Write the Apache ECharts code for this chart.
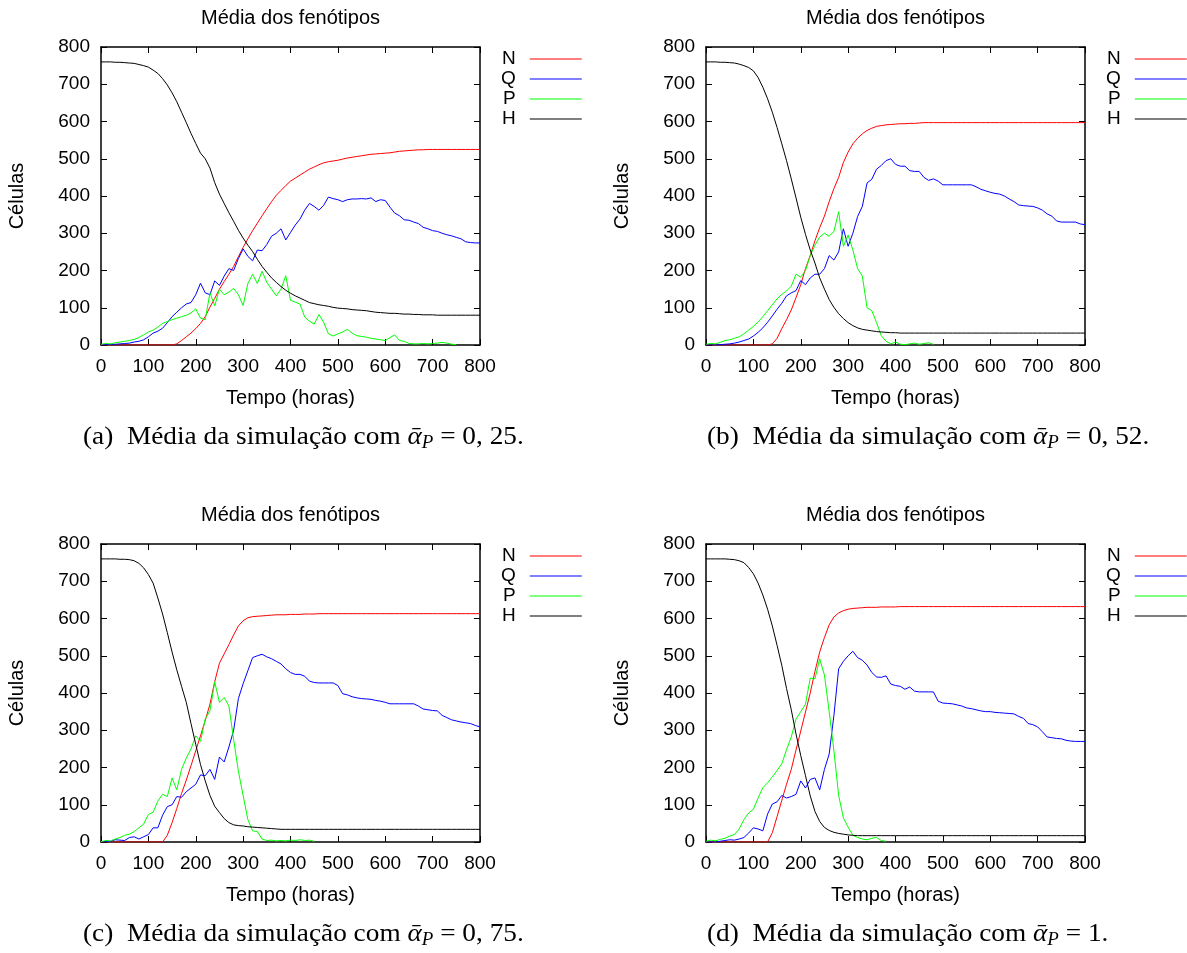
<!DOCTYPE html>
<html>
<head>
<meta charset="utf-8">
<script src="https://cdn.jsdelivr.net/npm/echarts@6/dist/echarts.min.js"></script>
<style>
  html, body { margin: 0; padding: 0; background: #fff; }
  #chart { width: 1187px; height: 953px; }
</style>
</head>
<body>
<div id="chart"></div>
<script>
const hours = [
  0, 10, 20, 30, 40, 50, 60, 70, 80, 90,
  100, 110, 120, 130, 140, 150, 160, 170, 180, 190,
  200, 210, 220, 230, 240, 250, 260, 270, 280, 290,
  300, 310, 320, 330, 340, 350, 360, 370, 380, 390,
  400, 410, 420, 430, 440, 450, 460, 470, 480, 490,
  500, 510, 520, 530, 540, 550, 560, 570, 580, 590,
  600, 610, 620, 630, 640, 650, 660, 670, 680, 690,
  700, 710, 720, 730, 740, 750, 760, 770, 780, 790,
  800
]
const seriesNames = ['N', 'Q', 'P', 'H']

// (a) alpha_P = 0,25
const nA = [
  0, 0, 0, 0, 0, 0, 0, 0, 0, 0,
  0, 0, 0, 0, 0, 0, 3, 12, 22, 32,
  44, 58, 76, 102, 125, 150, 170, 190, 211, 237,
  262, 285, 307, 327, 347, 366, 385, 402, 415, 428,
  440, 448, 456, 464, 472, 478, 484, 489, 492, 494,
  496, 499, 502, 504, 506, 508, 510, 512, 513, 514,
  515, 516, 518, 520, 521, 522, 523, 524, 524, 525,
  525, 525, 525, 525, 525, 525, 525, 525, 525, 525,
  525
]
const qA = [
  0, 1, 2, 2, 3, 4, 5, 8, 10, 14,
  22, 32, 37, 45, 60, 76, 88, 100, 110, 114,
  135, 166, 140, 135, 172, 160, 185, 205, 200, 232,
  258, 238, 226, 255, 253, 270, 292, 300, 312, 282,
  302, 322, 338, 362, 380, 372, 362, 375, 397, 393,
  390, 385, 390, 392, 392, 393, 392, 395, 385, 390,
  388, 370, 354, 347, 336, 335, 330, 326, 316, 312,
  307, 305, 300, 296, 293, 289, 285, 277, 275, 274,
  274
]
const pA = [
  2, 4, 3, 6, 8, 10, 12, 15, 20, 27,
  35, 40, 48, 58, 63, 68, 72, 76, 80, 86,
  97, 72, 68, 140, 105, 150, 135, 142, 152, 135,
  106, 165, 190, 165, 198, 168, 150, 132, 150, 186,
  120, 115, 110, 75, 64, 56, 82, 61, 30, 24,
  30, 35, 42, 32, 25, 23, 21, 18, 16, 14,
  12, 20, 27, 12, 10, 4, 3, 3, 4, 3,
  4, 5, 7, 5, 2, 1, null, null, null, null,
  null
]
const hA = [
  760, 760, 760, 759, 759, 758, 757, 756, 753, 750,
  746, 738, 729, 715, 698, 677, 653, 625, 597, 568,
  541, 515, 500, 475, 436, 405, 380, 355, 332, 308,
  287, 268, 251, 230, 211, 195, 180, 168, 157, 147,
  139, 132, 126, 120, 114, 111, 108, 106, 104, 101,
  99, 98, 97, 95, 94, 93, 92, 90, 88, 87,
  86, 85, 85, 84, 83, 83, 82, 82, 81, 81,
  81, 80, 80, 80, 80, 80, 80, 80, 80, 80,
  80
]

// (b) alpha_P = 0,52
const nB = [
  0, 0, 0, 0, 0, 0, 0, 0, 0, 0,
  0, 0, 0, 0, 3, 18, 44, 68, 94, 127,
  162, 205, 240, 280, 315, 346, 385, 420, 450, 490,
  518, 540, 555, 567, 576, 582, 587, 589, 591, 592,
  593, 594, 594, 595, 595, 596, 597, 597, 597, 597,
  597, 597, 597, 597, 597, 597, 597, 597, 597, 597,
  597, 597, 597, 597, 597, 597, 597, 597, 597, 597,
  597, 597, 597, 597, 597, 597, 597, 597, 597, 597,
  597
]
const qB = [
  0, 0, 0, 1, 2, 3, 5, 8, 12, 16,
  24, 34, 46, 61, 78, 96, 112, 132, 140, 146,
  173, 162, 180, 190, 190, 205, 240, 228, 250, 312,
  265, 300, 345, 372, 435, 445, 472, 482, 495, 500,
  485, 480, 480, 468, 466, 466, 450, 442, 446, 440,
  430, 430, 430, 430, 430, 430, 430, 425, 418, 414,
  410, 407, 405, 400, 392, 385, 376, 374, 373, 372,
  368, 362, 352, 346, 333, 330, 330, 330, 330, 325,
  323
]
const pB = [
  2, 4, 3, 7, 12, 14, 18, 22, 30, 40,
  50, 62, 76, 92, 108, 124, 136, 145, 158, 190,
  182, 200, 240, 268, 290, 300, 292, 305, 358, 265,
  295, 255, 205, 185, 100, 92, 60, 25, 10, 3,
  8, 2, 1, 3, 5, 2, 4, 6, 2, null,
  null, null, null, null, null, null, null, null, null, null,
  null, null, null, null, null, null, null, null, null, null,
  null, null, null, null, null, null, null, null, null, null,
  null
]
const hB = [
  760, 760, 760, 759, 759, 758, 757, 754, 750, 745,
  736, 718, 692, 661, 625, 584, 540, 495, 446, 395,
  343, 297, 255, 220, 180, 150, 122, 101, 84, 71,
  60, 52, 46, 42, 40, 38, 36, 35, 34, 33,
  33, 32, 32, 32, 32, 32, 32, 32, 32, 32,
  32, 32, 32, 32, 32, 32, 32, 32, 32, 32,
  32, 32, 32, 32, 32, 32, 32, 32, 32, 32,
  32, 32, 32, 32, 32, 32, 32, 32, 32, 32,
  32
]

// (c) alpha_P = 0,75
const nC = [
  0, 0, 0, 0, 0, 0, 0, 0, 0, 0,
  0, 0, 0, 0, 18, 52, 90, 130, 166, 205,
  245, 285, 326, 370, 430, 480, 505, 530, 556, 580,
  594, 602, 605, 606, 607, 608, 609, 610, 610, 610,
  611, 611, 611, 612, 612, 612, 613, 613, 613, 613,
  613, 613, 613, 613, 613, 613, 613, 613, 613, 613,
  613, 613, 613, 613, 613, 613, 613, 613, 613, 613,
  613, 613, 613, 613, 613, 613, 613, 613, 613, 613,
  613
]
const qC = [
  0, 1, 2, 6, 5, 4, 12, 14, 8, 14,
  20, 38, 38, 72, 95, 100, 122, 120, 135, 145,
  155, 180, 178, 195, 168, 228, 215, 255, 300, 385,
  425, 460, 495, 500, 504, 497, 492, 485, 478, 465,
  455, 450, 450, 445, 432, 428, 427, 427, 427, 427,
  420, 398, 395, 390, 387, 385, 384, 383, 380, 378,
  375, 371, 371, 371, 371, 371, 371, 365, 357, 355,
  353, 352, 340, 334, 328, 325, 322, 320, 318, 313,
  309
]
const pC = [
  1, 4, 3, 8, 12, 18, 21, 28, 38, 48,
  74, 80, 110, 128, 122, 172, 140, 195, 225, 250,
  285, 270, 330, 352, 430, 375, 388, 365, 275, 190,
  125, 60, 30, 28, 8, 4, 5, 3, 4, 3,
  5, 4, 6, 4, 5, 2, null, null, null, null,
  null, null, null, null, null, null, null, null, null, null,
  null, null, null, null, null, null, null, null, null, null,
  null, null, null, null, null, null, null, null, null, null,
  null
]
const hC = [
  760, 760, 760, 760, 759, 759, 758, 755, 748, 736,
  718, 695, 655, 612, 562, 510, 462, 418, 375, 318,
  262, 208, 164, 125, 96, 79, 63, 52, 46, 44,
  43, 41, 40, 39, 38, 37, 36, 35, 34, 34,
  34, 34, 34, 34, 34, 34, 34, 34, 34, 34,
  34, 34, 34, 34, 34, 34, 34, 34, 34, 34,
  34, 34, 34, 34, 34, 34, 34, 34, 34, 34,
  34, 34, 34, 34, 34, 34, 34, 34, 34, 34,
  34
]

// (d) alpha_P = 1
const nD = [
  0, 0, 0, 0, 0, 0, 0, 0, 0, 0,
  0, 0, 0, 0, 25, 68, 112, 155, 195, 247,
  298, 349, 400, 458, 510, 549, 583, 604, 615, 621,
  625, 627, 628, 629, 630, 630, 630, 631, 631, 631,
  631, 632, 632, 632, 632, 632, 632, 632, 632, 632,
  632, 632, 632, 632, 632, 632, 632, 632, 632, 632,
  632, 632, 632, 632, 632, 632, 632, 632, 632, 632,
  632, 632, 632, 632, 632, 632, 632, 632, 632, 632,
  632
]
const qD = [
  0, 0, 0, 2, 4, 6, 5, 8, 12, 24,
  38, 35, 30, 75, 102, 108, 125, 118, 122, 128,
  164, 145, 168, 172, 140, 195, 236, 340, 465, 485,
  500, 512, 495, 488, 475, 455, 443, 442, 446, 424,
  420, 418, 410, 416, 405, 403, 403, 403, 403, 378,
  373, 372, 371, 368, 365, 360, 358, 355, 352, 350,
  350, 348, 347, 346, 345, 344, 337, 332, 318, 315,
  309, 296, 282, 280, 278, 277, 273, 271, 270, 270,
  270
]
const pD = [
  2, 5, 3, 7, 10, 16, 20, 35, 60, 78,
  88, 118, 146, 159, 175, 192, 210, 248, 282, 330,
  350, 370, 440, 438, 492, 448, 350, 245, 125, 65,
  40, 18, 12, 8, 6, 10, 12, 4, 2, null,
  null, null, null, null, null, null, null, null, null, null,
  null, null, null, null, null, null, null, null, null, null,
  null, null, null, null, null, null, null, null, null, null,
  null, null, null, null, null, null, null, null, null, null,
  null
]
const hD = [
  760, 760, 760, 760, 760, 759, 758, 755, 750, 737,
  720, 695, 663, 625, 580, 528, 474, 412, 355, 290,
  232, 178, 124, 82, 55, 39, 31, 26, 23, 21,
  19, 18, 17, 17, 17, 17, 17, 17, 17, 17,
  17, 17, 17, 17, 17, 17, 17, 17, 17, 17,
  17, 17, 17, 17, 17, 17, 17, 17, 17, 17,
  17, 17, 17, 17, 17, 17, 17, 17, 17, 17,
  17, 17, 17, 17, 17, 17, 17, 17, 17, 17,
  17
]

const panelData = [
  [nA, qA, pA, hA],
  [nB, qB, pB, hB],
  [nC, qC, pC, hC],
  [nD, qD, pD, hD]
]
const captions = [
  ['(a)', '0, 25.'],
  ['(b)', '0, 52.'],
  ['(c)', '0, 75.'],
  ['(d)', '1.']
]
const lineColors = ['#ff0000', '#0000ff', '#00ff00', '#000000']

let charts = echarts.init(document.getElementById('chart'))

const sans = 'Liberation Sans, Arial, sans-serif'
const gridLefts = [101, 706]
const gridTops = [47, 544]
const captionLefts = [83, 707]
const gridW = 379
const gridH = 298

let grids = []
let xAxes = []
let yAxes = []
let titles = []
let legends = []
let series = []
let graphics = []

const axisBase = {
  min: 0,
  max: 800,
  interval: 100,
  axisLine: { show: true, onZero: false, lineStyle: { color: '#000', width: 1.5 } },
  axisTick: { show: true, inside: true, length: 6, lineStyle: { color: '#000', width: 1 } },
  splitLine: { show: false }
}

for (let g = 0; g < 4; g++) {
  const left = gridLefts[g % 2]
  const top = gridTops[Math.floor(g / 2)]
  grids.push({ left: left, top: top, width: gridW, height: gridH, show: false })

  xAxes.push(Object.assign({}, axisBase, {
    gridIndex: g, type: 'value', position: 'bottom',
    axisLabel: { color: '#000', fontSize: 19, fontFamily: sans, margin: 12 },
    name: 'Tempo (horas)', nameLocation: 'middle', nameGap: 43,
    nameTextStyle: { color: '#000', fontSize: 20, fontFamily: sans }
  }))
  xAxes.push(Object.assign({}, axisBase, {
    gridIndex: g, type: 'value', position: 'top', axisLabel: { show: false }
  }))
  yAxes.push(Object.assign({}, axisBase, {
    gridIndex: g, type: 'value', position: 'left',
    axisLabel: { color: '#000', fontSize: 19, fontFamily: sans, margin: 11 },
    name: 'Células', nameLocation: 'middle', nameGap: 74, nameRotate: 90,
    nameTextStyle: { color: '#000', fontSize: 20, fontFamily: sans }
  }))
  yAxes.push(Object.assign({}, axisBase, {
    gridIndex: g, type: 'value', position: 'right', axisLabel: { show: false }
  }))

  titles.push({
    text: 'Média dos fenótipos',
    left: left + gridW / 2,
    top: top - 39,
    textAlign: 'center',
    padding: 0,
    textStyle: { color: '#000', fontSize: 20, fontWeight: 'normal', fontFamily: sans }
  })

  legends.push({
    data: seriesNames,
    orient: 'vertical',
    align: 'right',
    icon: 'rect',
    left: left + gridW + 21,
    top: top + 2,
    padding: 0,
    itemWidth: 52,
    itemHeight: 1.2,
    itemGap: 0,
    selectedMode: false,
    textStyle: { color: '#000', fontSize: 19, fontFamily: sans, lineHeight: 20, padding: [0, 9, 0, 0] }
  })

  panelData[g].forEach((vals, k) => {
    series.push({
      name: seriesNames[k],
      type: 'line',
      xAxisIndex: g * 2,
      yAxisIndex: g * 2,
      symbol: 'none',
      animation: false,
      lineStyle: { color: lineColors[k], width: 1 },
      itemStyle: { color: lineColors[k] },
      data: hours.map((h, i) => [h, vals[i]])
    })
  })

  graphics.push({
    type: 'text',
    left: captionLefts[g % 2],
    top: top + gridH + 79,
    scaleX: 1.05,
    style: {
      text: '{t|' + captions[g][0] + '  Média da simulação com }{m|ᾱ}{s|P}{t| = ' + captions[g][1] + '}',
      rich: {
        t: { fontFamily: 'Liberation Serif, serif', fontSize: 26, color: '#000', lineHeight: 31 },
        m: { fontFamily: 'Liberation Serif, DejaVu Serif, serif', fontStyle: 'italic', fontSize: 26, color: '#000', lineHeight: 31 },
        s: { fontFamily: 'Liberation Serif, serif', fontStyle: 'italic', fontSize: 18, color: '#000', lineHeight: 18, verticalAlign: 'bottom' }
      }
    }
  })
}

let options = {
  backgroundColor: '#fff',
  animation: false,
  title: titles,
  legend: legends,
  grid: grids,
  xAxis: xAxes,
  yAxis: yAxes,
  series: series,
  graphic: graphics
}
charts.setOption(options)
</script>
</body>
</html>
